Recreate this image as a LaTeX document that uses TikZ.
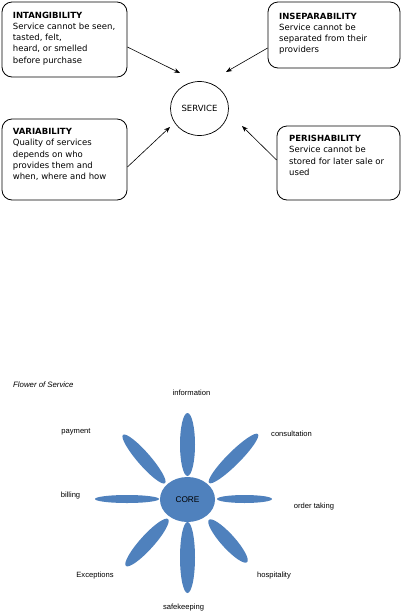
\documentclass[tikz,border=0pt]{standalone}
\usepackage{fontspec}
\setmainfont{DejaVu Sans}
\newfontfamily\arialfont{Liberation Sans}
\usetikzlibrary{shapes.geometric,arrows.meta}
\definecolor{petal}{RGB}{79,129,189}
\tikzset{
  box/.style={draw=black, line width=0.8pt, rounded corners=10pt, inner sep=0pt},
  boxtext/.style={anchor=north west, inner sep=0pt, align=left, font=\fontsize{8.5}{11.3}\selectfont},
  arr/.style={line width=0.6pt, -{Stealth[length=6pt,width=4.5pt]}},
  leaf/.style={ellipse, fill=petal, inner sep=0pt},
  lab/.style={inner sep=0pt, font=\arialfont\fontsize{7.6}{9}\selectfont},
}
\begin{document}
\begin{tikzpicture}[x=1pt,y=1pt]
\useasboundingbox[fill=white] (0,0) rectangle (404,-614);
% boxes
\node[box, minimum width=125pt, minimum height=75pt] (ibox) at (64.5,-39.5) {};
\node[box, minimum width=132pt, minimum height=66pt] (sbox) at (334,-35) {};
\node[box, minimum width=125pt, minimum height=81pt] (vbox) at (64.5,-159.5) {};
\node[box, minimum width=123pt, minimum height=74pt] (pbox) at (338.5,-163) {};
\node[boxtext] (itext) at (12.7,-11.5) {\textbf{INTANGIBILITY}\\Service cannot be seen,\\tasted, felt,\\heard, or smelled\\before purchase};
\node[boxtext] (stext) at (279,-12.5) {\textbf{INSEPARABILITY}\\Service cannot be\\separated from their\\providers};
\node[boxtext] (vtext) at (12.7,-128) {\textbf{VARIABILITY}\\Quality of services\\depends on who\\provides them and\\when, where and how};
\node[boxtext] (ptext) at (289,-135) {\textbf{PERISHABILITY}\\Service cannot be\\stored for later sale or\\used};
% service
\node[ellipse, draw=black, line width=0.7pt, minimum width=58pt, minimum height=54pt, inner sep=0pt, font=\fontsize{8.5}{10}\selectfont] (serv) at (199.5,-108.5) {SERVICE};
\coordinate (t1) at (180,-73);
\coordinate (t2) at (226,-72);
\coordinate (t3) at (170,-127);
\coordinate (t4) at (242,-126);
\draw[arr] ([yshift=-7.5pt]ibox.east) -- (t1);
\draw[arr] ([yshift=-13pt]sbox.west) -- (t2);
\draw[arr] ([yshift=-7.5pt]vbox.east) -- (t3);
\draw[arr] ([yshift=3pt]pbox.west) -- (t4);
% flower
\node[lab, anchor=west, font=\arialfont\itshape\fontsize{7.8}{9}\selectfont] (ftitle) at (13,-385) {Flower of Service};
\node[leaf, minimum width=63pt, minimum height=15pt, rotate=90] (ptop) at (187.5,-444.5) {};
\node[leaf, minimum width=71pt, minimum height=15pt, rotate=90] (pbot) at (187.5,-557.5) {};
\node[leaf, minimum width=64pt, minimum height=8pt] (pleft) at (127,-499) {};
\node[leaf, minimum width=55pt, minimum height=8pt] (pright) at (244.5,-499) {};
\node[leaf, minimum width=64pt, minimum height=13pt, rotate=-49] (pul) at (144,-459) {};
\node[leaf, minimum width=69pt, minimum height=13pt, rotate=45] (pur) at (233.5,-458.5) {};
\node[leaf, minimum width=63pt, minimum height=14pt, rotate=48] (pll) at (147,-542.5) {};
\node[leaf, minimum width=57pt, minimum height=14pt, rotate=-48] (plr) at (228,-541) {};
\node[leaf, minimum width=55pt, minimum height=45pt, font=\arialfont\fontsize{8.3}{10}\selectfont] (core) at (187.5,-499.5) {CORE};
\node[lab] (l1) at (191.5,-393) {information};
\node[lab] (l2) at (76,-432) {payment};
\node[lab] (l3) at (291.5,-434) {consultation};
\node[lab] (l4) at (70.5,-496) {billing};
\node[lab] (l5) at (314,-507) {order taking};
\node[lab] (l6) at (95,-576) {Exceptions};
\node[lab] (l7) at (274,-576) {hospitality};
\node[lab] (l8) at (183.5,-608) {safekeeping};
\end{tikzpicture}
\end{document}
